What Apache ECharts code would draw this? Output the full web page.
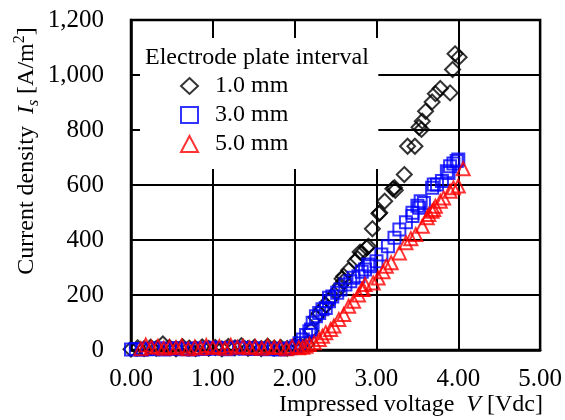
<!DOCTYPE html>
<html>
<head>
<meta charset="utf-8">
<script src="https://cdn.jsdelivr.net/npm/echarts@6/dist/echarts.min.js"></script>
<style>
  html, body { margin: 0; padding: 0; background: #fff; }
  #chart { width: 565px; height: 420px; }
</style>
</head>
<body>
<div id="chart"></div>
<script>
// Current density vs impressed voltage for three electrode plate intervals
const seriesNames = ['1.0 mm', '3.0 mm', '5.0 mm'];

// [voltage (Vdc), current density (A/m2)]
const gap10 = [
  [0.00, 3], [0.08, 8], [0.16, 5], [0.24, 10], [0.31, 6], [0.39, 22], [0.47, 9], [0.55, 4],
  [0.63, 12], [0.71, 7], [0.79, 5], [0.87, 11], [0.95, 6], [1.03, 9], [1.11, 4], [1.19, 13],
  [1.27, 8], [1.35, 16], [1.43, 6], [1.51, 10], [1.59, 5], [1.67, 14], [1.75, 7], [1.83, 9],
  [1.91, 6], [1.99, 12], [2.07, 15],
  [2.15, 22], [2.20, 70], [2.26, 118], [2.30, 135], [2.34, 150], [2.38, 162], [2.42, 180],
  [2.46, 195], [2.52, 215], [2.56, 235], [2.58, 259], [2.60, 250], [2.60, 268], [2.66, 290],
  [2.74, 323], [2.77, 332], [2.80, 356], [2.82, 353], [2.88, 372], [2.90, 377], [2.95, 441],
  [3.03, 496], [3.04, 499], [3.10, 541], [3.20, 586], [3.23, 581], [3.22, 590], [3.34, 638],
  [3.38, 741], [3.47, 741], [3.52, 810], [3.55, 802], [3.56, 832], [3.60, 868], [3.68, 902],
  [3.72, 932], [3.78, 951], [3.90, 935], [3.93, 1020], [3.96, 1077], [4.01, 1065]
];

const gap30 = [
  [0.00, 2], [0.06, 4], [0.13, 1], [0.20, 5], [0.27, 3], [0.34, 6], [0.41, 2], [0.48, 4],
  [0.55, 7], [0.62, 3], [0.69, 5], [0.76, 2], [0.83, 6], [0.90, 4], [0.97, 8], [1.04, 5],
  [1.11, 7], [1.18, 3], [1.25, 6], [1.32, 9], [1.39, 5], [1.46, 7], [1.53, 4], [1.60, 6],
  [1.67, 3], [1.74, 5], [1.81, 2], [1.88, 4], [1.95, 6],
  [2.02, 14], [2.06, 25], [2.10, 38], [2.14, 55], [2.18, 68], [2.20, 75], [2.22, 99],
  [2.26, 123], [2.30, 135], [2.34, 148], [2.38, 153], [2.42, 177], [2.42, 190], [2.46, 195],
  [2.52, 208], [2.56, 220], [2.62, 238], [2.68, 250], [2.72, 263], [2.78, 268], [2.82, 285],
  [2.86, 293], [2.90, 311], [2.92, 305], [3.00, 323], [3.06, 347], [3.14, 377], [3.22, 408],
  [3.28, 438], [3.36, 465], [3.44, 487], [3.44, 499], [3.50, 525], [3.52, 517], [3.54, 541],
  [3.58, 535], [3.68, 590], [3.70, 602], [3.74, 602], [3.80, 615], [3.86, 650], [3.88, 644],
  [3.90, 668], [3.94, 678], [3.98, 687], [4.00, 693]
];

const gap50 = [
  [0.12, 5], [0.18, 18], [0.25, 10], [0.33, 14], [0.40, 6], [0.47, 12], [0.55, 8], [0.62, 15],
  [0.70, 5], [0.78, 11], [0.85, 7], [0.92, 16], [1.00, 9], [1.08, 13], [1.15, 6], [1.22, 17],
  [1.30, 10], [1.37, 14], [1.45, 8], [1.52, 12], [1.60, 6], [1.67, 15], [1.75, 9], [1.82, 11],
  [1.90, 5], [1.97, 13], [2.05, 8], [2.10, 10],
  [2.14, 14], [2.18, 20], [2.24, 26], [2.30, 38], [2.34, 50], [2.38, 63], [2.44, 75],
  [2.48, 87], [2.54, 111], [2.60, 129], [2.66, 159], [2.72, 177], [2.78, 200], [2.82, 220],
  [2.84, 220], [2.86, 238], [2.96, 244], [3.02, 262], [3.08, 285], [3.12, 305], [3.18, 317],
  [3.28, 353], [3.36, 390], [3.42, 405], [3.48, 420], [3.56, 450], [3.62, 481], [3.64, 493],
  [3.68, 505], [3.70, 511], [3.72, 523], [3.78, 541], [3.82, 553], [3.90, 577], [3.94, 590],
  [4.00, 596], [4.06, 659]
];

const xTicks = { min: 0, max: 5, step: 1 };
const yTicks = { min: 0, max: 1200, step: 200 };

const FONT = '"Liberation Serif", serif';
const SIZE = 24;
const TICK_SIZE = 25;

const chart = echarts.init(document.getElementById('chart'), null, { renderer: 'canvas' });

function hollow(color) {
  return { color: 'rgba(0,0,0,0)', borderColor: color, borderWidth: 2 };
}

const option = {
  backgroundColor: '#fff',
  animation: false,
  grid: {
    left: 131, right: 19, top: 20, bottom: 70,
    show: true, borderColor: '#000', borderWidth: 2.5, containLabel: false
  },
  xAxis: {
    type: 'value',
    min: xTicks.min, max: xTicks.max, interval: xTicks.step,
    axisLine: { show: true, lineStyle: { color: '#000', width: 2.5 } },
    axisTick: { show: false },
    splitLine: { show: true, lineStyle: { color: '#000', width: 2 } },
    axisLabel: {
      margin: 17, color: '#000', fontFamily: FONT, fontSize: TICK_SIZE,
      formatter: v => v.toFixed(2)
    }
  },
  yAxis: {
    type: 'value',
    min: yTicks.min, max: yTicks.max, interval: yTicks.step,
    axisLine: { show: true, lineStyle: { color: '#000', width: 2.5 } },
    axisTick: { show: false },
    splitLine: { show: true, lineStyle: { color: '#000', width: 2 } },
    axisLabel: {
      margin: 27, color: '#000', fontFamily: FONT, fontSize: TICK_SIZE,
      formatter: v => v.toLocaleString('en-US')
    }
  },
  legend: {
    orient: 'vertical',
    left: 140, top: 38,
    padding: [36, 90, 13, 40],
    backgroundColor: '#fff',
    itemWidth: 17, itemHeight: 16, itemGap: 5,
    textStyle: { fontFamily: FONT, fontSize: SIZE, color: '#000', padding: [0, 0, 0, 12] },
    data: [
      { name: seriesNames[0], icon: 'diamond', itemStyle: hollow('#000') },
      { name: seriesNames[1], icon: 'rect', itemStyle: hollow('#0000ff') },
      { name: seriesNames[2], icon: 'triangle', itemStyle: hollow('#ff0000') }
    ]
  },
  graphic: [
    {
      type: 'text', left: 145, top: 46, z: 100,
      style: { text: 'Electrode plate interval', font: SIZE + 'px ' + FONT, fill: '#000' }
    },
    {
      type: 'text', z: 100,
      x: 543, y: 405,
      style: {
        text: '{n|Impressed voltage  }{i|V}{n| [Vdc]}',
        align: 'right', verticalAlign: 'middle',
        rich: {
          n: { fontFamily: FONT, fontSize: SIZE, fill: '#000' },
          i: { fontFamily: FONT, fontSize: SIZE, fontStyle: 'italic', fill: '#000' }
        }
      }
    },
    {
      type: 'text', z: 100,
      x: 27, y: 151, rotation: Math.PI / 2,
      style: {
        text: '{n|Current density  }{i|I}{sub|s}{n| [A/m}{sup|2}{n|]}',
        align: 'center', verticalAlign: 'middle',
        rich: {
          n: { fontFamily: FONT, fontSize: SIZE, fill: '#000', lineHeight: 30 },
          i: { fontFamily: FONT, fontSize: SIZE, fontStyle: 'italic', fill: '#000', lineHeight: 30 },
          sub: { fontFamily: FONT, fontSize: 16, fontStyle: 'italic', fill: '#000', verticalAlign: 'bottom', lineHeight: 30 },
          sup: { fontFamily: FONT, fontSize: 16, fill: '#000', verticalAlign: 'top', lineHeight: 30 }
        }
      }
    }
  ],
  series: [
    {
      name: seriesNames[0], type: 'scatter', data: gap10,
      symbol: 'diamond', symbolSize: 15, itemStyle: hollow('#000')
    },
    {
      name: seriesNames[1], type: 'scatter', data: gap30,
      symbol: 'rect', symbolSize: 12, itemStyle: hollow('#0000ff')
    },
    {
      name: seriesNames[2], type: 'scatter', data: gap50,
      symbol: 'triangle', symbolSize: 13, itemStyle: hollow('#ff0000')
    }
  ]
};

chart.setOption(option);
</script>
</body>
</html>
